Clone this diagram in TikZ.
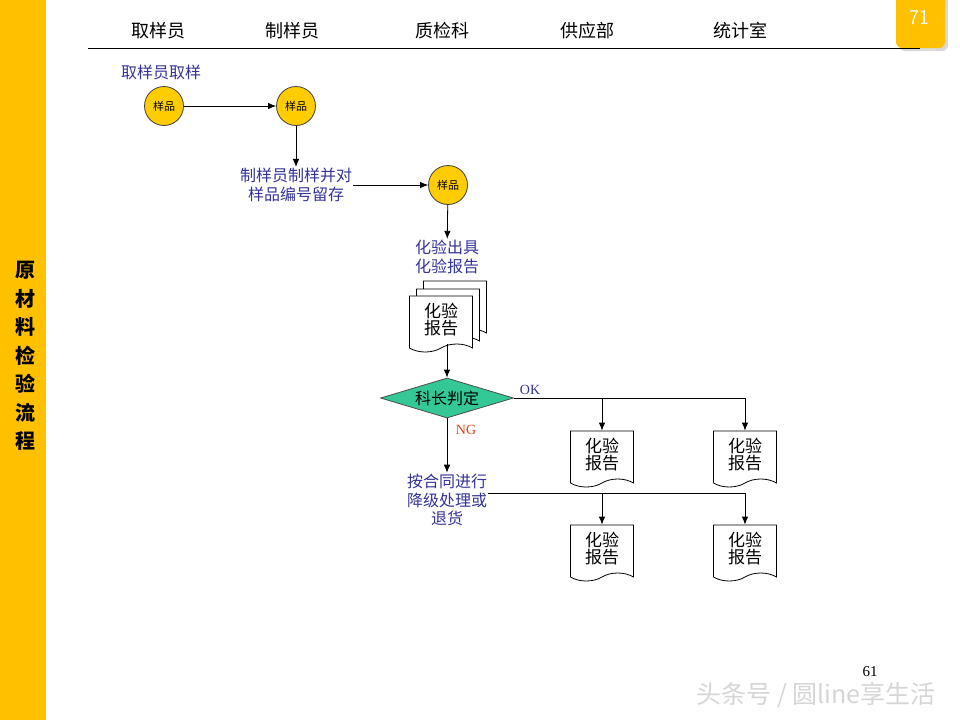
\documentclass[tikz,border=0pt]{standalone}
\usepackage{fontspec}
\setmainfont{Liberation Serif}
\newfontfamily\cjk{Noto Sans CJK SC}
\usetikzlibrary{positioning}
\usetikzlibrary{shapes.geometric,shapes.symbols,shadows,arrows.meta}

\definecolor{barYellow}{HTML}{FFC000}
\definecolor{dotYellow}{HTML}{FFCC00}
\definecolor{judgeGreen}{HTML}{33C896}
\definecolor{noteBlue}{HTML}{333399}
\definecolor{ngRed}{HTML}{E0401A}

\tikzset{
  lane/.style={font=\cjk\fontsize{18}{20}\selectfont},
  sample/.style={circle,draw=black!75,line width=0.8pt,fill=dotYellow,minimum size=39pt,
    inner sep=0pt,font=\cjk\fontsize{11}{12}\selectfont},
  note/.style={align=center,text=noteBlue,inner sep=1pt,
    font=\cjk\fontsize{16}{18.5}\selectfont},
  report/.style={tape,tape bend top=none,tape bend bottom=in and out,tape bend height=8pt,
    draw,line width=0.8pt,fill=white,minimum width=63pt,minimum height=56pt,inner sep=0pt,
    align=center,font=\cjk\fontsize{17}{17}\selectfont},
  judge/.style={diamond,aspect=3.3,draw=black!70,line width=0.8pt,fill=judgeGreen,
    minimum width=133pt,minimum height=40pt,inner sep=0pt,font=\cjk\fontsize{16}{16}\selectfont},
}

\begin{document}
\begin{tikzpicture}[x=1pt,y=-1pt,>={Latex[length=8pt,width=6.5pt]},line width=0.8pt]
\useasboundingbox (0,0) rectangle (960,720);
% side bar and page tab
\fill[barYellow] (0,0) rectangle (46,720);
\node[align=center,text width=1em,font=\cjk\bfseries\fontsize{20}{28.5}\selectfont] (title) at (21,356)
  {原\\材\\料\\检\\验\\流\\程};
\fill[barYellow,rounded corners=6pt,drop shadow={shadow xshift=3pt,shadow yshift=-3pt,opacity=0.3}]
  (896,-8) rectangle (945,48);
\node[text=white,font=\sffamily\fontsize{21}{21}\selectfont] (page) at (919,18) {71};

% swimlane header
\node[lane] (l1) at (158,31) {取样员};
\node[lane] (l2) at (292,31) {制样员};
\node[lane] (l3) at (442,31) {质检科};
\node[lane] (l4) at (587,31) {供应部};
\node[lane] (l5) at (740,31) {统计室};
\draw[line width=1pt] (88,48) -- (920,48);

% sampling
\node[note] (take) at (161,72) {取样员取样};
\node[sample] (s1) at (164,106) {样品};
\node[sample] (s2) at (296,106) {样品};
\node[note] (cut) at (296,185) {制样员制样并对\\样品编号留存};
\node[sample] (s3) at (448,185) {样品};
\node[note] (issue) at (447,257) {化验出具\\化验报告};

% stacked report
\node[report] (rb2) at (455,305) {};
\node[report] (rb1) at (448,313) {};
\node[report] (rep) at (441,320) {化验\\报告};

\node[judge] (judge) at (447,398) {科长判定};
\node[note] (ng) at (447,500) {按合同进行\\降级处理或\\退货};

\node[report] (ok1) at (602,455) {化验\\报告};
\node[report] (ok2) at (745,455) {化验\\报告};
\node[report] (dn1) at (602,549) {化验\\报告};
\node[report] (dn2) at (745,549) {化验\\报告};

\draw[->] (s1) -- (s2);
\draw[->] (s2) -- (cut);
\draw[->] (cut.east) -- (s3);
\draw[->] (s3) -- (issue);
\draw[->] (judge.north |- rep.south) -- (judge.north);
\draw[->] (judge.east) -| (ok2.north);
\draw[->] (judge.east -| ok1.north) -- (ok1.north);
\draw[->] (judge) -- (ng);
\draw[->] ([yshift=7pt]ng.east) -| (dn2.north);
\draw[->] ([yshift=7pt]ng.east -| dn1.north) -- (dn1.north);

\node[text=noteBlue,font=\fontsize{14}{14}\selectfont] (ok) at (530,390) {OK};
\node[text=ngRed,font=\fontsize{14}{14}\selectfont] (ngl) at (466,430) {NG};

% page number and mark
\node[font=\fontsize{15}{15}\selectfont] (num) at (870,672) {61};
\node[text=black!16,font=\cjk\fontsize{25}{25}\selectfont] (mark) at (816,695) {头条号 / 圆line享生活};
\end{tikzpicture}
\end{document}
